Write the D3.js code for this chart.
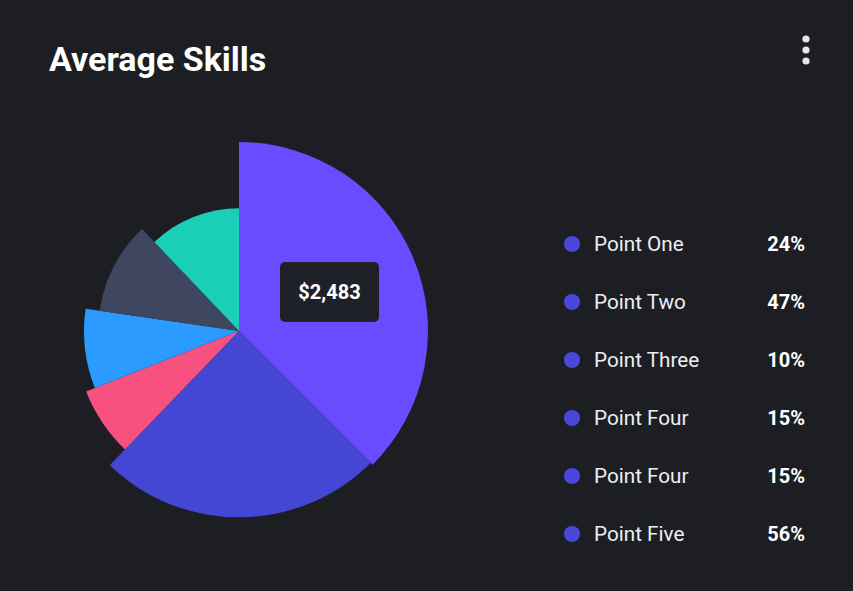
<!DOCTYPE html>
<html>
<head>
<meta charset="utf-8">
<script src="https://cdn.jsdelivr.net/npm/d3@7"></script>
<style>
  html, body { margin: 0; padding: 0; background: #1d1e23; }
  svg { display: block; }
</style>
</head>
<body>
<svg id="chart" width="853" height="591"></svg>
<script>
// ---- data ----
const sliceNames = ["A", "B", "C", "D", "E", "F"];
const sliceShares = [37.5, 24.7, 6.8, 8.3, 10.6, 12.1];   // angular share (%)
const sliceRadius = [100, 98.6, 87, 82, 74.5, 65];        // relative radius
const sliceColors = ["#6a4bff", "#4447d4", "#f7527f", "#2c9bff", "#3f4660", "#1bceb8"];

const legendLabels = ["Point One", "Point Two", "Point Three", "Point Four", "Point Four", "Point Five"];
const legendValues = ["24%", "47%", "10%", "15%", "15%", "56%"];
const tooltipText = "$2,483";
const titleText = "Average Skills";

// ---- drawing ----
const svg = d3.select("#chart");
const W = 853, H = 591;
svg.append("rect").attr("width", W).attr("height", H).attr("fill", "#1d1e23");

svg.append("text")
  .attr("x", 49).attr("y", 71)
  .attr("fill", "#ffffff")
  .attr("font-family", "Roboto, sans-serif")
  .attr("font-weight", 700)
  .attr("font-size", 34)
  .text(titleText);

// menu dots
svg.selectAll("circle.menu").data([39, 50, 61]).enter().append("circle")
  .attr("class", "menu")
  .attr("cx", 806).attr("cy", d => d).attr("r", 3.6)
  .attr("fill", "#e6e7ec");

// pie
const cx = 239, cy = 331;
const rScale = d3.scaleLinear().domain([0, 100]).range([0, 189]);
const pie = d3.pie().sort(null).value(d => d.share);
const data = sliceNames.map((n, i) => ({ name: n, share: sliceShares[i], r: sliceRadius[i], color: sliceColors[i] }));
const arcs = pie(data);
const arc = d3.arc().innerRadius(0).outerRadius(d => rScale(d.data.r));

const g = svg.append("g").attr("transform", `translate(${cx},${cy})`);
g.selectAll("path").data(arcs).enter().append("path")
  .attr("d", arc)
  .attr("fill", d => d.data.color);

// tooltip
const tip = svg.append("g").attr("transform", "translate(280,262)");
tip.append("rect")
  .attr("width", 99).attr("height", 60).attr("rx", 5)
  .attr("fill", "#1f2129");
tip.append("text")
  .attr("x", 49.5).attr("y", 30).attr("dy", "0.35em")
  .attr("text-anchor", "middle")
  .attr("fill", "#ffffff")
  .attr("font-family", "Roboto, sans-serif")
  .attr("font-weight", 700)
  .attr("font-size", 20)
  .text(tooltipText);

// legend
const ly = d3.scalePoint().domain(d3.range(legendLabels.length)).range([244, 534]);
const lg = svg.append("g");
const rows = lg.selectAll("g").data(legendLabels).enter().append("g")
  .attr("transform", (d, i) => `translate(0,${ly(i)})`);
rows.append("circle").attr("cx", 572).attr("cy", 0).attr("r", 8).attr("fill", "#4a48db");
rows.append("text")
  .attr("x", 594).attr("y", 0).attr("dy", "0.36em")
  .attr("fill", "#eeeef2")
  .attr("font-family", "Roboto, sans-serif")
  .attr("font-size", 20.7)
  .text(d => d);
rows.append("text")
  .attr("x", 805).attr("y", 0).attr("dy", "0.36em")
  .attr("text-anchor", "end")
  .attr("fill", "#ffffff")
  .attr("font-family", "Roboto, sans-serif")
  .attr("font-weight", 700)
  .attr("font-size", 20)
  .text((d, i) => legendValues[i]);
</script>
</body>
</html>
